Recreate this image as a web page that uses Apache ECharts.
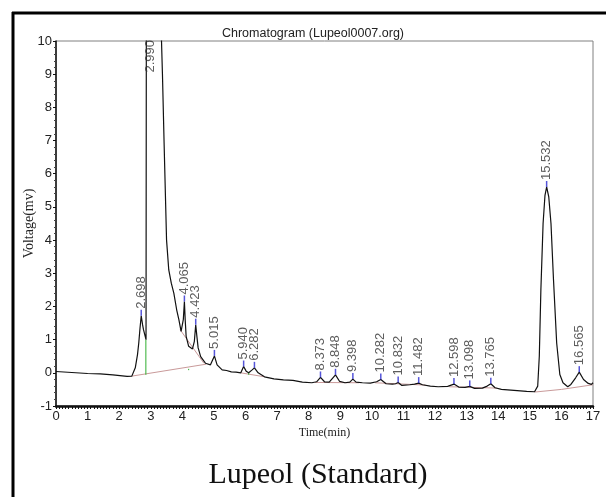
<!DOCTYPE html>
<html>
<head>
<meta charset="utf-8">
<script src="https://cdn.jsdelivr.net/npm/echarts@6/dist/echarts.min.js"></script>
<style>
  html, body { margin: 0; padding: 0; background: #fff; }
  #chart { width: 606px; height: 497px; }
</style>
</head>
<body>
<div id="chart"></div>
<script>
// Detector trace: retention time (min) and signal (mV)
const traceTime = [
  0.0, 0.5, 1.0, 1.4, 1.8, 2.25, 2.4, 2.51, 2.58, 2.62, 2.66, 2.698, 2.74, 2.77, 2.85, 2.86,
  2.88, 2.99, 3.1, 3.25, 3.34, 3.37, 3.42, 3.5, 3.57, 3.65, 3.73, 3.82, 3.89, 3.96, 4.0,
  4.03, 4.065, 4.09, 4.12, 4.2, 4.32, 4.38, 4.423, 4.46, 4.5, 4.58, 4.73, 4.89, 4.95, 5.015,
  5.1, 5.26, 5.4, 5.55, 5.7, 5.85, 5.94, 6.02, 6.1, 6.2, 6.282, 6.4, 6.6, 6.9, 7.2, 7.5,
  7.8, 8.1, 8.25, 8.373, 8.5, 8.65, 8.848, 8.98, 9.15, 9.3, 9.398, 9.5, 9.7, 9.95, 10.15,
  10.282, 10.45, 10.65, 10.75, 10.832, 10.95, 11.2, 11.35, 11.482, 11.6, 11.85, 12.1, 12.4,
  12.598, 12.75, 12.95, 13.098, 13.25, 13.5, 13.65, 13.765, 13.9, 14.1, 14.5, 14.9, 15.15,
  15.25, 15.3, 15.35, 15.42, 15.48, 15.532, 15.6, 15.67, 15.75, 15.85, 15.95, 16.05, 16.2,
  16.3, 16.45, 16.565, 16.7, 16.85, 16.95, 17.0
];
const traceVolt = [
  0.04, 0.01, -0.02, -0.03, -0.06, -0.11, -0.1, 0.15, 0.55, 0.9, 1.35, 1.72, 1.45, 1.3, 1.0, 1.0,
  30, 48, 40, 20, 10, 9, 7, 4.0, 3.1, 2.7, 2.4, 1.9, 1.6, 1.25, 1.2,
  1.6, 2.15, 1.6, 1.1, 0.8, 0.72, 0.95, 1.45, 1.1, 0.75, 0.49, 0.29, 0.24, 0.3, 0.51,
  0.24, 0.09, 0.07, 0.03, 0.02, 0.0, 0.19, 0.05, 0.0, 0.08, 0.15, 0.0, -0.12, -0.18, -0.21, -0.23,
  -0.28, -0.3, -0.27, -0.14, -0.27, -0.28, -0.06, -0.26, -0.3, -0.28, -0.19, -0.28, -0.3, -0.31, -0.27,
  -0.2, -0.33, -0.34, -0.33, -0.29, -0.38, -0.36, -0.34, -0.31, -0.36, -0.4, -0.42, -0.41,
  -0.34, -0.43, -0.44, -0.41, -0.47, -0.46, -0.4, -0.33, -0.45, -0.5, -0.53, -0.56, -0.57,
  -0.4, 0.5, 2.5, 4.5, 5.35, 5.6, 5.3, 4.5, 2.8, 0.9, -0.05, -0.3, -0.42,
  -0.35, -0.15, 0.02, -0.2, -0.32, -0.35, -0.3
];

// Integrated peaks: retention time and apex height (2.990 runs off scale)
const peakTimes = [2.698, 2.990, 4.065, 4.423, 5.015, 5.940, 6.282, 8.373, 8.848, 9.398,
  10.282, 10.832, 11.482, 12.598, 13.098, 13.765, 15.532, 16.565];
const peakHeights = [1.72, 10, 2.15, 1.45, 0.51, 0.19, 0.15, -0.14, -0.06, -0.19,
  -0.2, -0.29, -0.31, -0.34, -0.41, -0.33, 5.6, 0.02];
const offScalePeak = 2.990;

// Integration baselines (start/end points)
const baselineSegments = [
  [[2.4, -0.1], [4.75, 0.26]],
  [[3.93, 1.3], [4.68, 0.29]],
  [[5.85, 0.0], [6.6, -0.12]],
  [[8.2, -0.29], [9.6, -0.3]],
  [[10.1, -0.3], [11.7, -0.37]],
  [[12.45, -0.42], [13.95, -0.46]],
  [[15.15, -0.58], [16.0, -0.5], [17.0, -0.36]]
];
// Peak separation drop lines
const dropLines = [
  [[2.845, -0.06], [2.845, 1.0]],
  [[6.1, -0.06], [6.1, 0.0]],
  [[4.2, 0.08], [4.2, 0.12]]
];

const xTicks = { min: 0, max: 17, step: 1 };
const yTicks = { min: -1, max: 10, step: 1 };

const tickFont = "'Liberation Sans Narrow', 'Arial Narrow', 'Liberation Sans', sans-serif";
const chart = echarts.init(document.getElementById('chart'), null, { renderer: 'canvas' });

const series = [];
baselineSegments.forEach(seg => series.push({
  type: 'line', data: seg, symbol: 'none', silent: true, z: 2,
  lineStyle: { color: '#c99a9a', width: 1 }
}));
dropLines.forEach(seg => series.push({
  type: 'line', data: seg, symbol: 'none', silent: true, z: 3,
  lineStyle: { color: '#2fae2f', width: 1 }
}));
series.push({
  type: 'line', name: 'signal', symbol: 'none', clip: true, z: 4,
  data: traceTime.map((t, i) => [t, traceVolt[i]]),
  lineStyle: { color: '#111', width: 1.2 }
});
series.push({
  type: 'scatter', z: 5, silent: true,
  data: peakTimes.map((t, i) => {
    const off = t === offScalePeak;
    return {
      value: [t, peakHeights[i]],
      symbolSize: off ? 0 : [1.5, 6],
      label: off ? {
        position: 'bottom', distance: 2, align: 'right', verticalAlign: 'middle'
      } : {}
    };
  }),
  symbol: 'rect',
  symbolOffset: [0, -3],
  itemStyle: { color: '#2a2ad0' },
  label: {
    show: true, position: 'top', distance: 1, rotate: 90,
    align: 'left', verticalAlign: 'middle',
    fontFamily: "'Liberation Sans', Arial, sans-serif", fontSize: 13, color: '#333',
    formatter: p => p.value[0].toFixed(3)
  }
});

chart.setOption({
  animation: false,
  backgroundColor: '#fff',
  title: [
    {
      text: 'Chromatogram (Lupeol0007.org)', left: 308, top: 22, textAlign: 'center',
      textStyle: { fontFamily: "'Liberation Sans', Arial, sans-serif", fontSize: 12.5, fontWeight: 'normal', color: '#222' }
    },
    {
      text: 'Lupeol (Standard)', left: 313, top: 455, textAlign: 'center',
      textStyle: { fontFamily: "'Liberation Serif', 'Times New Roman', serif", fontSize: 30, fontWeight: 'normal', color: '#111' }
    }
  ],
  grid: { left: 56, top: 41, right: 13, bottom: 91, show: true, borderColor: '#808080', borderWidth: 1 },
  xAxis: {
    type: 'value', min: xTicks.min, max: xTicks.max, interval: xTicks.step,
    name: 'Time(min)', nameLocation: 'middle', nameGap: 21, nameMoveOverlap: false,
    nameTextStyle: { fontFamily: "'Liberation Serif', 'Times New Roman', serif", fontSize: 12, color: '#222' },
    axisLine: { onZero: false, lineStyle: { color: '#111', width: 2.5 } },
    axisTick: { show: true, length: 3, lineStyle: { color: '#111' } },
    minorTick: { show: true, splitNumber: 10, length: 3, lineStyle: { color: '#111' } },
    splitLine: { show: false },
    axisLabel: { margin: 4, fontFamily: tickFont, fontSize: 13, color: '#222' }
  },
  yAxis: {
    type: 'value', min: yTicks.min, max: yTicks.max, interval: yTicks.step,
    name: 'Voltage(mv)', nameLocation: 'middle', nameGap: 20, nameMoveOverlap: false,
    nameTextStyle: { fontFamily: "'Liberation Serif', 'Times New Roman', serif", fontSize: 14, color: '#222' },
    axisLine: { onZero: false, lineStyle: { color: '#111', width: 1.5 } },
    axisTick: { show: true, length: 3, lineStyle: { color: '#111' } },
    minorTick: { show: true, splitNumber: 5, length: 2, lineStyle: { color: '#444' } },
    splitLine: { show: false },
    axisLabel: { margin: 4, fontFamily: tickFont, fontSize: 13, color: '#222' }
  },
  graphic: [
    { type: 'line', shape: { x1: 12, y1: 13, x2: 606, y2: 13 }, style: { stroke: '#000', lineWidth: 3 } },
    { type: 'line', shape: { x1: 13, y1: 12, x2: 13, y2: 497 }, style: { stroke: '#000', lineWidth: 3 } }
  ],
  series: series
});
</script>
</body>
</html>
